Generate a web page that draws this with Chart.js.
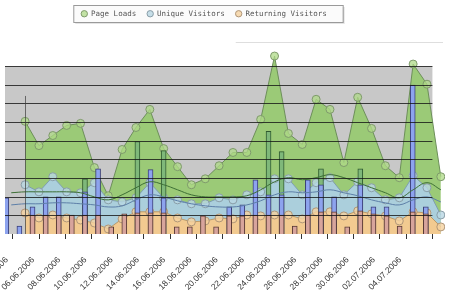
<!DOCTYPE html>
<html><head><meta charset="utf-8">
<script src="https://cdn.jsdelivr.net/npm/chart.js@4.4.0/dist/chart.umd.min.js"></script>
<style>html,body{margin:0;padding:0;background:#fff;overflow:hidden}#wrap{position:relative;width:450px;height:292px}</style>
</head><body><div id="wrap"><canvas id="c" width="450" height="292"></canvas></div>
<script>
// x tick labels, one every two days starting 04.06.2006 (day 0)
const tickLabels = ['04.06.2006','06.06.2006','08.06.2006','10.06.2006','12.06.2006','14.06.2006','16.06.2006','18.06.2006','20.06.2006','22.06.2006','24.06.2006','26.06.2006','28.06.2006','30.06.2006','02.07.2006','04.07.2006'];
const seriesNames = ['Page Loads','Unique Visitors','Returning Visitors'];
// daily series, 05.06.2006 .. 05.07.2006 (day 1 .. day 31)
const pageLoads = [604,474,528,582,593,356,205,453,571,668,458,361,264,296,366,437,437,614,954,539,480,722,668,383,733,566,366,302,911,803,307];
const uniqueVisitors = [264,226,307,226,221,275,183,172,194,275,194,183,162,162,194,183,210,226,296,296,210,275,302,210,280,248,183,194,313,248,102];
const returningVisitors = [113,86,102,86,75,59,27,81,119,119,119,86,65,70,86,81,102,97,102,102,81,119,119,97,124,108,97,70,119,113,38];
// trend lines, 04.06.2006 .. 05.07.2006 (day 0 .. day 31)
const pageLoadsTrend = [221,226,226,226,226,221,199,183,210,248,280,264,237,210,199,199,199,205,237,280,302,291,302,318,302,275,248,221,194,237,275,237];
const visitorsTrend = [156,162,162,167,167,162,156,145,151,183,210,199,178,162,151,145,145,156,178,210,226,221,226,237,221,205,183,167,156,183,199,172];
// daily bars, 03.06.2006 .. 05.07.2006 (day -1 .. day 31)
const barPageLoads = [0,0,0,0,0,0,296,0,0,0,496,0,447,0,0,0,0,0,0,0,550,442,0,0,350,0,0,350,0,0,0,0,0];
const barUnique = [194,43,146,199,199,0,226,350,0,0,194,345,194,0,0,0,0,146,156,291,210,210,0,291,264,199,0,264,146,146,0,798,146];
const barReturning = [0,0,102,102,102,102,102,102,38,108,113,113,113,38,38,97,38,97,97,102,102,102,43,102,119,119,38,124,108,97,43,119,108];

const firstDay = 1, firstTrendDay = 0, firstBarDay = -1;
const pts = (arr, start) => arr.map((v, i) => ({x: i + start, y: v}));
const barPts = arr => arr.map((v, i) => ({x: i + firstBarDay + 0.5, y: v}));

const bgPlugin = {
  id: 'bg',
  afterLayout(chart) {
    const lg = chart.legend;
    if (lg) { lg.left -= 20; lg.right -= 20; if (lg.adjustHitBoxes) lg.adjustHitBoxes(); }
  },
  beforeDraw(chart) {
    const c = chart.ctx, lg = chart.legend;
    if (lg && lg.legendHitBoxes && lg.legendHitBoxes.length) {
      const hb = lg.legendHitBoxes;
      const x0 = Math.min(...hb.map(h => h.left)) - 8;
      const x1 = Math.max(...hb.map(h => h.left + h.width)) + 16;
      const y0 = 5, y1 = 22;
      c.save();
      c.fillStyle = '#e4e4e4';
      c.fillRect(x0 + 2, y0 + 2, x1 - x0, y1 - y0);
      c.fillStyle = '#fbfbfb';
      c.fillRect(x0, y0, x1 - x0, y1 - y0);
      c.strokeStyle = '#9a9a9a';
      c.lineWidth = 1;
      c.strokeRect(x0 + 0.5, y0 + 0.5, x1 - x0, y1 - y0);
      c.restore();
    }
  },
  beforeDatasetsDraw(chart) {
    const c = chart.ctx, y = chart.scales.y, xt = chart.scales.xt, a = chart.chartArea;
    c.save();
    c.strokeStyle = '#dedede';
    c.beginPath(); c.moveTo(xt.getPixelForValue(17), 42.5); c.lineTo(a.right - 2, 42.5); c.stroke();
    c.fillStyle = '#c8c8c8';
    const top = y.getPixelForValue(900), bot = y.getPixelForValue(0);
    c.fillRect(a.left, top, xt.getPixelForValue(32) - a.left, bot - top);
    c.restore();
  },
  afterDatasetsDraw(chart) {
    const c = chart.ctx, y = chart.scales.y, xt = chart.scales.xt, x = chart.scales.x, a = chart.chartArea;
    c.save();
    c.strokeStyle = 'rgba(20,20,20,0.8)';
    c.lineWidth = 1;
    const right = xt.getPixelForValue(32);
    for (let v = 100; v <= 900; v += 100) {
      const py = Math.round(y.getPixelForValue(v)) + 0.5;
      c.beginPath(); c.moveTo(a.left, py); c.lineTo(right, py); c.stroke();
    }
    const vx = Math.round(x.getPixelForValue(firstDay)) + 0.5;
    c.strokeStyle = 'rgba(60,60,60,0.7)';
    c.beginPath(); c.moveTo(vx, y.getPixelForValue(740)); c.lineTo(vx, y.getPixelForValue(0)); c.stroke();
    c.restore();
  }
};

const ptStyle = (fill, stroke) => ({pointRadius: 4, pointBackgroundColor: fill, pointBorderColor: stroke, pointBorderWidth: 1, pointStyle: 'circle'});

new Chart(document.getElementById('c'), {
  type: 'bar',
  data: {
    datasets: [
      Object.assign({type: 'line', label: seriesNames[0], data: pts(pageLoads, firstDay), xAxisID: 'x', fill: 'origin',
        backgroundColor: '#9bca77', borderColor: '#6d8f5a', borderWidth: 1, tension: 0, order: 10}, ptStyle('rgba(175,218,135,0.75)', '#7f9a6c')),
      Object.assign({type: 'line', label: seriesNames[1], data: pts(uniqueVisitors, firstDay), xAxisID: 'x', fill: 'origin',
        backgroundColor: '#abcfdc', borderColor: '#7f9fae', borderWidth: 1, tension: 0, order: 9}, ptStyle('rgba(185,215,228,0.8)', '#8a9ea8')),
      Object.assign({type: 'line', label: seriesNames[2], data: pts(returningVisitors, firstDay), xAxisID: 'x', fill: 'origin',
        backgroundColor: '#f2ca90', borderColor: '#b99a6a', borderWidth: 1, tension: 0, order: 8}, ptStyle('rgba(245,210,160,0.8)', '#b09678')),
      {type: 'bar', label: 'bars1', data: barPts(barPageLoads), xAxisID: 'xt', backgroundColor: '#7fb87a', borderColor: '#2f5a2f', borderWidth: 1, barThickness: 5, grouped: false, order: 7},
      {type: 'bar', label: 'bars2', data: barPts(barUnique), xAxisID: 'xt', backgroundColor: '#8da3ee', borderColor: '#3b3f78', borderWidth: 1, barThickness: 5, grouped: false, order: 6},
      {type: 'bar', label: 'bars3', data: barPts(barReturning), xAxisID: 'xt', backgroundColor: '#d7a49c', borderColor: '#5a3a34', borderWidth: 1, barThickness: 5, grouped: false, order: 5},
      {type: 'line', label: 'trend1', data: pts(pageLoadsTrend, firstTrendDay), xAxisID: 'x', borderColor: '#3d6f35', borderWidth: 1, pointRadius: 0, tension: 0.4, fill: false, order: 2},
      {type: 'line', label: 'trend2', data: pts(visitorsTrend, firstTrendDay), xAxisID: 'x', borderColor: '#5d7fa8', borderWidth: 1, pointRadius: 0, tension: 0.4, fill: false, order: 1}
    ]
  },
  options: {
    responsive: false, animation: false, devicePixelRatio: 1,
    layout: {padding: {left: 0, right: 2, top: -1, bottom: 0}},
    plugins: {
      tooltip: {enabled: false},
      legend: {
        position: 'top',
        labels: {
          usePointStyle: true, pointStyle: 'circle', padding: 11, boxHeight: 4.5, boxWidth: 6,
          font: {family: 'DejaVu Sans Mono', size: 7.5}, color: '#555',
          filter: item => item.datasetIndex < 3,
          sort: (a, b) => a.datasetIndex - b.datasetIndex
        }
      }
    },
    scales: {
      x: {type: 'linear', display: false, offset: false, min: -0.45, max: 31.3, grid: {offset: false}},
      xt: {
        type: 'linear', position: 'bottom', min: -0.599, max: 32.96, offset: false,
        ticks: {stepSize: 2, includeBounds: false, autoSkip: false, minRotation: 45, maxRotation: 45, padding: 16, labelOffset: -6,
          font: {family: 'Liberation Sans', size: 8.5}, color: '#333',
          callback: v => tickLabels[Math.round(v / 2)] || ''},
        grid: {drawOnChartArea: false, tickLength: 5, color: '#333', offset: false},
        border: {display: false},
        afterFit: s => { s.paddingLeft = 0; s.paddingRight = 0; s.height = 58; }
      },
      y: {min: 0, max: 1107, display: false}
    }
  },
  plugins: [bgPlugin]
});
</script></body></html>
